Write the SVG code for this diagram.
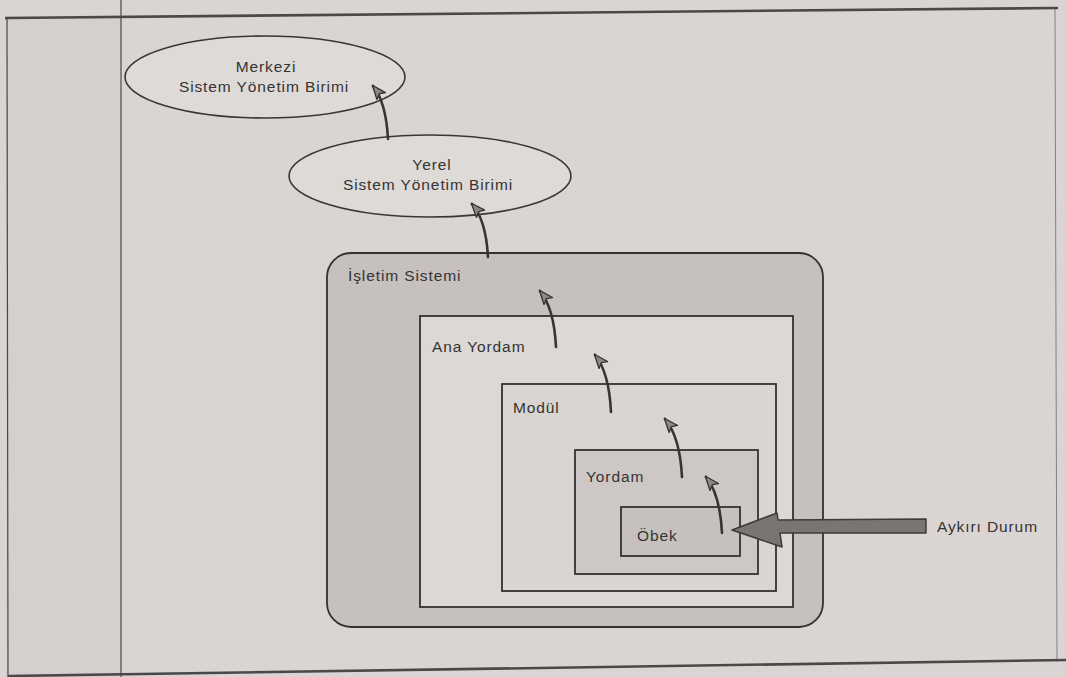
<svg xmlns="http://www.w3.org/2000/svg" width="1066" height="677" viewBox="0 0 1066 677">
<style>
.lbl{font-family:"Liberation Sans",Arial,sans-serif;font-size:15.5px;fill:#353333;letter-spacing:0.9px}
.mid{text-anchor:middle}
.ell{fill:#dedad7;stroke:#383636;stroke-width:1.6}
.box{stroke:#333131;stroke-width:1.8}
.frame{stroke:#4a4848;fill:none}
.conn{fill:none;stroke:#363434;stroke-width:2.6;stroke-linecap:round}
</style>
<defs>
<marker id="ah" viewBox="0 0 16 13" refX="14" refY="6.5" markerUnits="userSpaceOnUse" markerWidth="16" markerHeight="13" orient="auto">
<path d="M1,1 L15,6.5 L1,12 L4,6.5 z" fill="#8c8886" stroke="#333" stroke-width="1.3" stroke-linejoin="round"/>
</marker>
</defs>
<rect width="1066" height="677" fill="#dad5d2"/>
<rect x="6" y="18" width="114" height="659" fill="#d5d0cd"/>
<g id="page-frame">
<path class="frame" stroke-width="2.6" d="M5,18 L1058,8"/>
<path class="frame" stroke-width="2.6" d="M8,676 L1066,660"/>
<path class="frame" stroke-width="1.2" d="M121,0 L121,677"/>
<path class="frame" stroke-width="1.2" d="M7,18 L8,677"/>
<path class="frame" stroke-width="1" stroke-opacity="0.6" d="M1055,8 L1057,662"/>
</g>
<g id="merkezi">
<ellipse class="ell" cx="265" cy="77" rx="140" ry="41"/>
<text class="lbl mid" x="266" y="72">Merkezi</text>
<text class="lbl mid" x="264" y="92">Sistem Yönetim Birimi</text>
</g>
<g id="yerel">
<ellipse class="ell" cx="430" cy="176" rx="141" ry="41"/>
<text class="lbl mid" x="432" y="170">Yerel</text>
<text class="lbl mid" x="428" y="190">Sistem Yönetim Birimi</text>
</g>
<g id="isletim-sistemi">
<rect class="box" x="327" y="253" width="496" height="374" rx="24" fill="#c6c1be"/>
<text class="lbl" x="348" y="281">İşletim Sistemi</text>
</g>
<g id="ana-yordam">
<rect class="box" x="420" y="316" width="373" height="291" fill="#dcd8d5"/>
<text class="lbl" x="432" y="352">Ana Yordam</text>
</g>
<g id="modul">
<rect class="box" x="502" y="384" width="274" height="207" fill="#d9d5d2"/>
<text class="lbl" x="513" y="413">Modül</text>
</g>
<g id="yordam">
<rect class="box" x="575" y="450" width="183" height="124" fill="#cdc8c5"/>
<text class="lbl" x="586" y="482">Yordam</text>
</g>
<g id="obek">
<rect class="box" x="621" y="507" width="119" height="49" fill="#c6c1be"/>
<text class="lbl" x="637" y="541">Öbek</text>
</g>
<g id="aykiri-durum">
<text class="lbl" x="937" y="532">Aykırı Durum</text>
</g>
<g id="connectors">
<path class="conn" d="M388,139 Q386,102 373,86" marker-end="url(#ah)"/>
<path class="conn" d="M488,257 Q486,220 472,204" marker-end="url(#ah)"/>
<path class="conn" d="M556,347 Q554,308 540,291" marker-end="url(#ah)"/>
<path class="conn" d="M611,412 Q609,372 595,355" marker-end="url(#ah)"/>
<path class="conn" d="M682,477 Q680,437 665,419" marker-end="url(#ah)"/>
<path class="conn" d="M722,533 Q720,494 706,477" marker-end="url(#ah)"/>
<polygon points="732,530 777,513 778,520 926,519 926,533 780,533 782,547" fill="#7a7573" stroke="#3e3b3a" stroke-width="1.5" stroke-linejoin="round"/>
</g>
</svg>
